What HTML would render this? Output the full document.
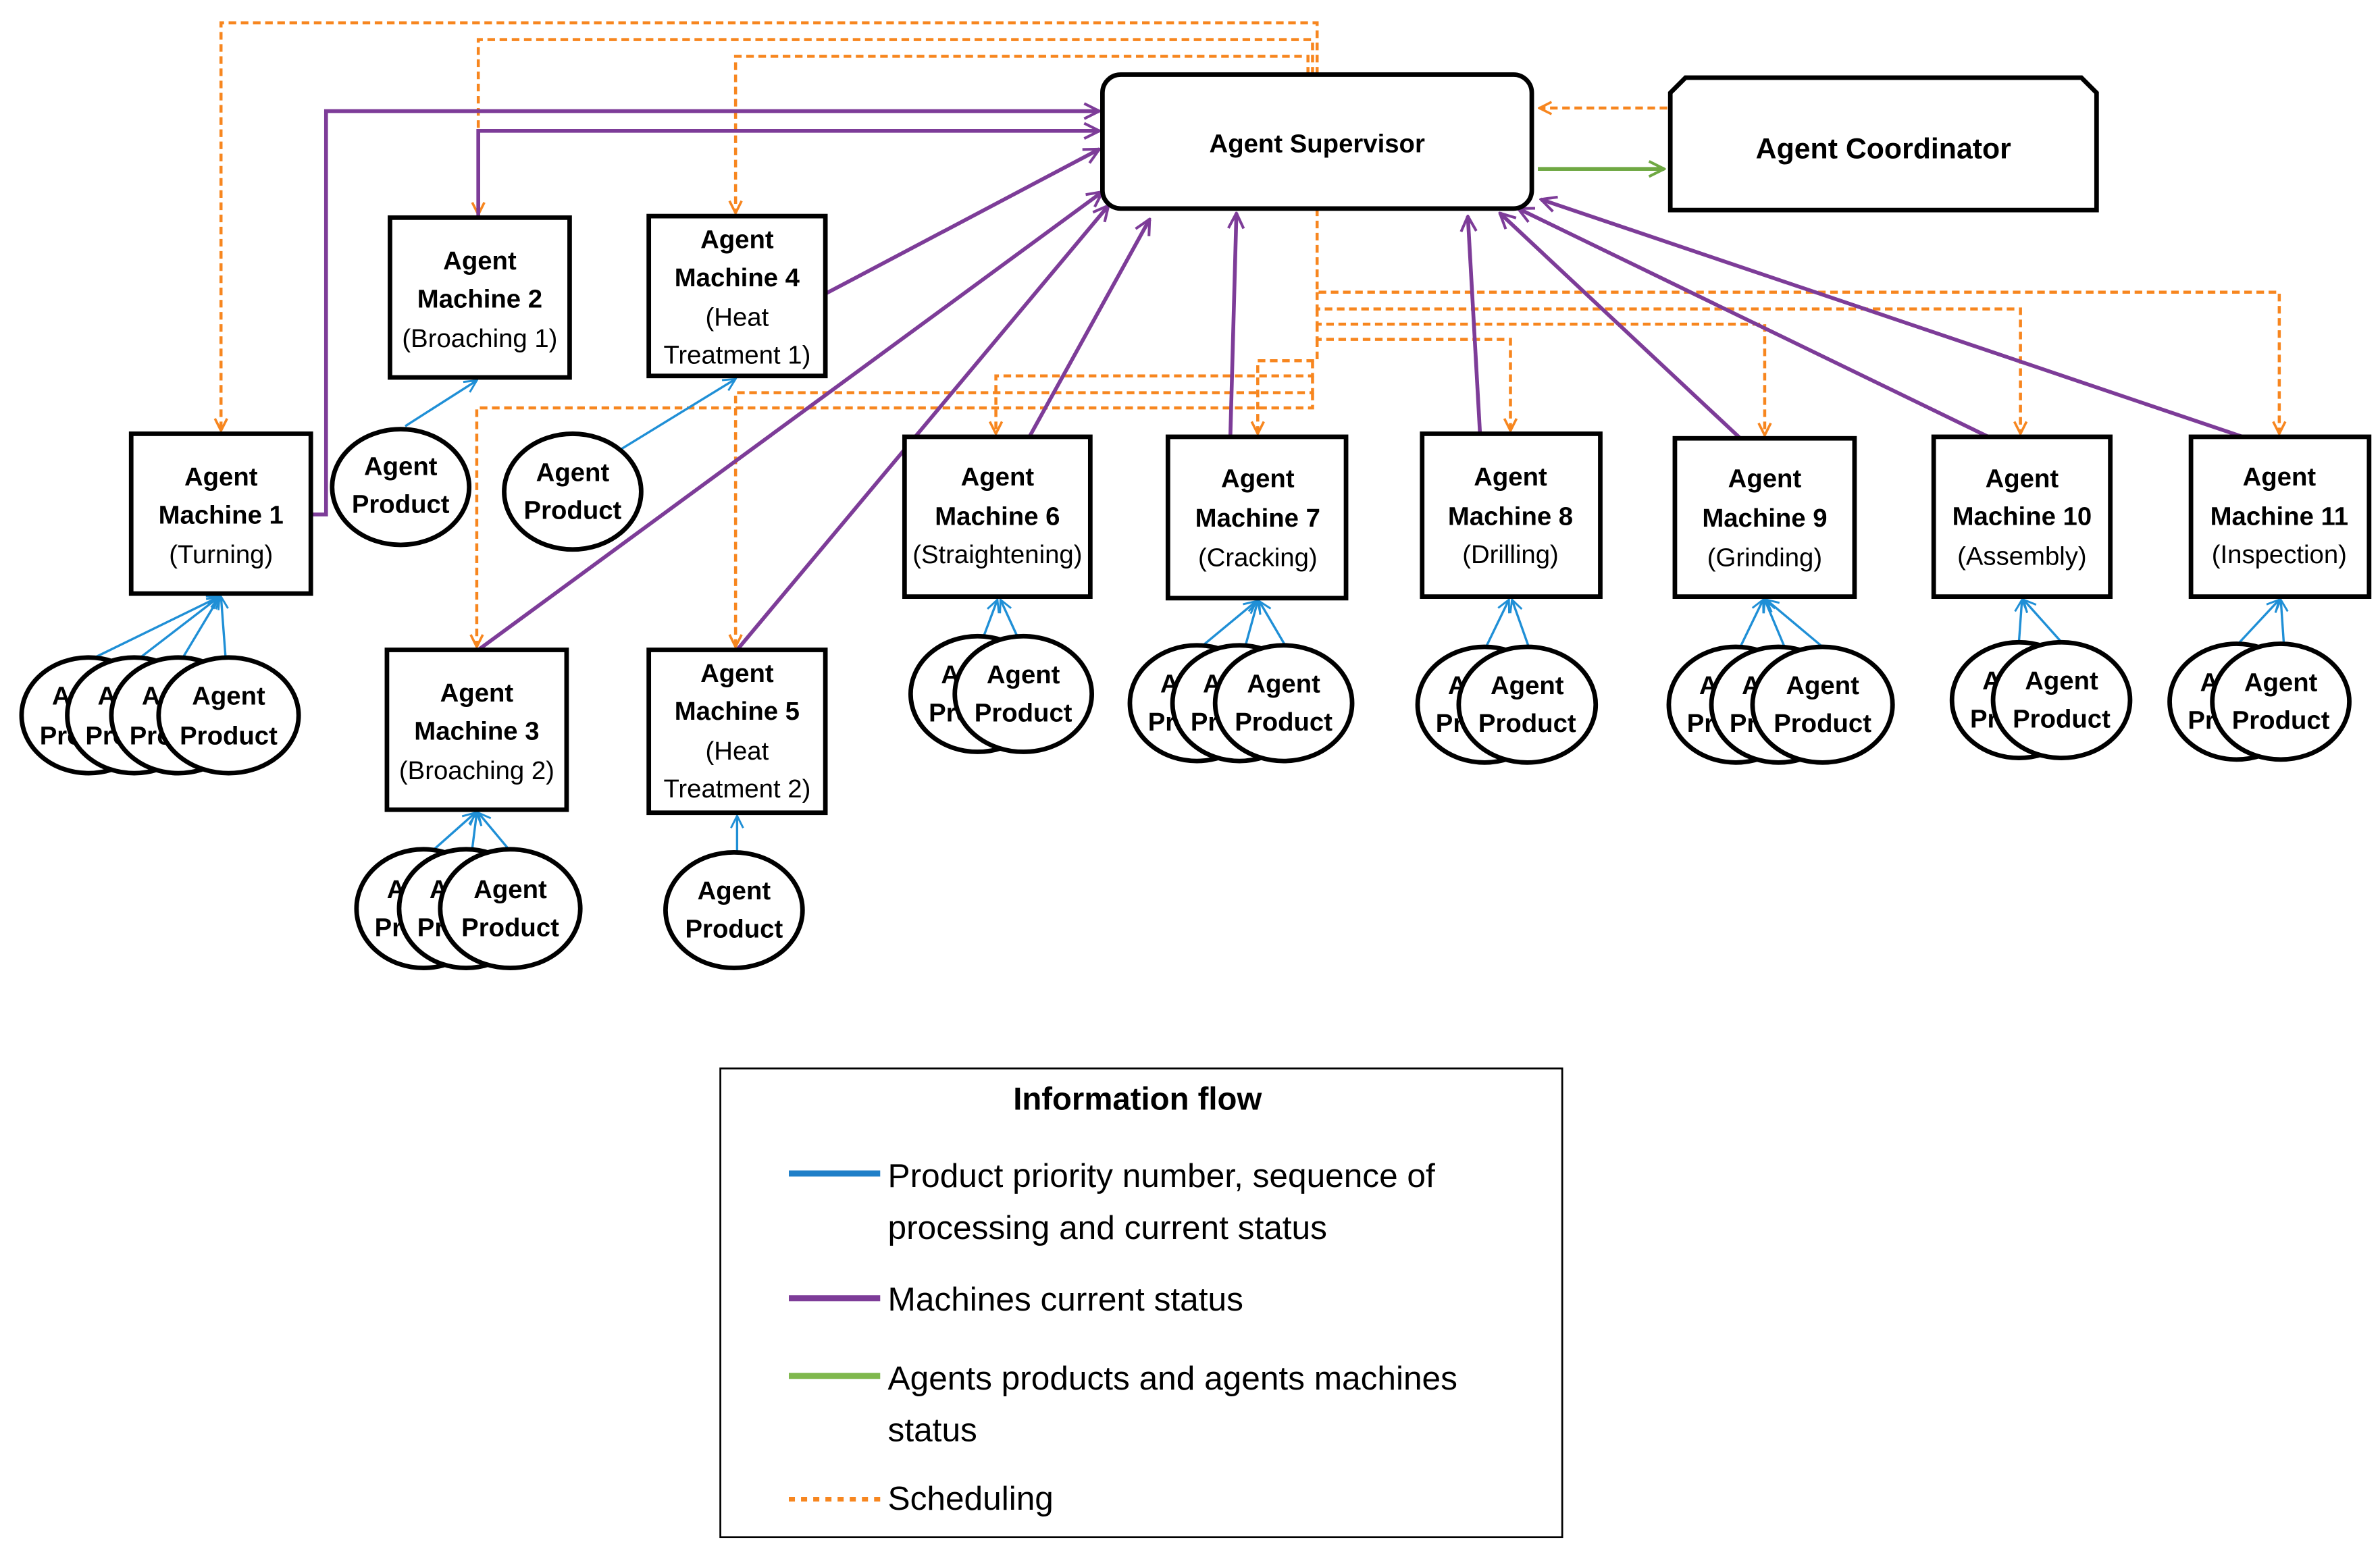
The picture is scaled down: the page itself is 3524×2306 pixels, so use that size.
<!DOCTYPE html>
<html><head><meta charset="utf-8"><style>
html,body{margin:0;padding:0;background:#fff;}
svg{display:block;}
text{font-family:"Liberation Sans",sans-serif;fill:#000;}
.b{font-weight:bold;}
</style></head><body>
<svg width="3524" height="2306" viewBox="0 0 1563 1023" xmlns="http://www.w3.org/2000/svg">
<defs>
<marker id="ao" markerWidth="10" markerHeight="10" refX="9" refY="5" orient="auto" markerUnits="userSpaceOnUse"><path d="M1,1 L9,5 L1,9" fill="none" stroke="#f7861f" stroke-width="1.6"/></marker>
<marker id="ap" markerWidth="12" markerHeight="12" refX="11" refY="6" orient="auto" markerUnits="userSpaceOnUse"><path d="M1,1 L11,6 L1,11" fill="none" stroke="#7d3c98" stroke-width="1.8"/></marker>
<marker id="ag" markerWidth="12" markerHeight="12" refX="11" refY="6" orient="auto" markerUnits="userSpaceOnUse"><path d="M1,1 L11,6 L1,11" fill="none" stroke="#6fa843" stroke-width="1.8"/></marker>
<marker id="ab" markerWidth="10" markerHeight="10" refX="9" refY="5" orient="auto" markerUnits="userSpaceOnUse"><path d="M1,1 L9,5 L1,9" fill="none" stroke="#1f8fd6" stroke-width="1.3"/></marker>
</defs>

<!-- orange dashed scheduling -->
<g fill="none" stroke="#f7861f" stroke-width="2" stroke-dasharray="5,3">
<path d="M865,49 V15 H145 V283" marker-end="url(#ao)"/>
<path d="M862,49 V26 H314 V141" marker-end="url(#ao)"/>
<path d="M859,49 V37 H483 V140" marker-end="url(#ao)"/>
<path d="M1095,71 H1011" marker-end="url(#ao)"/>
<path d="M865,137 V192 H1497 V285" marker-end="url(#ao)"/>
<path d="M865,192 V203 H1327 V285" marker-end="url(#ao)"/>
<path d="M865,203 V213 H1159 V286" marker-end="url(#ao)"/>
<path d="M865,213 V223 H992 V283" marker-end="url(#ao)"/>
<path d="M865,223 V237 H826 V285" marker-end="url(#ao)"/>
<path d="M862,237 V247 H654 V285" marker-end="url(#ao)"/>
<path d="M862,247 V258 H483 V425" marker-end="url(#ao)"/>
<path d="M862,258 V268 H313 V425" marker-end="url(#ao)"/>
</g>

<!-- purple -->
<g fill="none" stroke="#7d3c98" stroke-width="2.5">
<path d="M204,338 H214 V73 H722" marker-end="url(#ap)"/>
<path d="M314,143 V86 H722" marker-end="url(#ap)"/>
<path d="M542,193 L722,98" marker-end="url(#ap)"/>
<path d="M314,427 L724,126" marker-end="url(#ap)"/>
<path d="M484,427 L728,135" marker-end="url(#ap)"/>
<path d="M676,287 L755,144" marker-end="url(#ap)"/>
<path d="M808,287 L812,140" marker-end="url(#ap)"/>
<path d="M972,285 L964,142" marker-end="url(#ap)"/>
<path d="M1143,288 L985,140" marker-end="url(#ap)"/>
<path d="M1308,288 L997,137" marker-end="url(#ap)"/>
<path d="M1476,288 L1012,131" marker-end="url(#ap)"/>
</g>
<path d="M1010,111 H1093" stroke="#6fa843" stroke-width="2.5" fill="none" marker-end="url(#ag)"/>

<!-- supervisor / coordinator -->
<rect x="724" y="49" width="282" height="88" rx="12" fill="#fff" stroke="#000" stroke-width="3"/>
<text x="865" y="100" text-anchor="middle" class="b" font-size="17">Agent Supervisor</text>
<path d="M1107,51 H1367 L1377,61 V138 H1097 V61 Z" fill="#fff" stroke="#000" stroke-width="3"/>
<text x="1237" y="104" text-anchor="middle" class="b" font-size="19">Agent Coordinator</text>

<!-- blue lines -->
<g stroke="#1f8fd6" stroke-width="1.5" fill="none">
<path d="M62,432 L144,392" marker-end="url(#ab)"/><path d="M92,432 L144,392" marker-end="url(#ab)"/><path d="M120,432 L144,392" marker-end="url(#ab)"/><path d="M148,432 L145,392" marker-end="url(#ab)"/>
<path d="M266,280 L313,250" marker-end="url(#ab)"/>
<path d="M408,295 L483,249" marker-end="url(#ab)"/>
<path d="M285,558 L312,534" marker-end="url(#ab)"/><path d="M310,558 L313,534" marker-end="url(#ab)"/><path d="M334,558 L314,534" marker-end="url(#ab)"/>
<path d="M484,560 L484,536" marker-end="url(#ab)"/>
<path d="M646,418 L655,394" marker-end="url(#ab)"/><path d="M668,418 L657,394" marker-end="url(#ab)"/>
<path d="M790,424 L825,395" marker-end="url(#ab)"/><path d="M818,424 L826,395" marker-end="url(#ab)"/><path d="M844,424 L827,395" marker-end="url(#ab)"/>
<path d="M976,425 L991,394" marker-end="url(#ab)"/><path d="M1004,425 L993,394" marker-end="url(#ab)"/>
<path d="M1143,425 L1158,394" marker-end="url(#ab)"/><path d="M1172,425 L1159,394" marker-end="url(#ab)"/><path d="M1197,425 L1160,394" marker-end="url(#ab)"/>
<path d="M1326,422 L1328,394" marker-end="url(#ab)"/><path d="M1354,422 L1329,394" marker-end="url(#ab)"/>
<path d="M1470,423 L1497,394" marker-end="url(#ab)"/><path d="M1500,423 L1498,394" marker-end="url(#ab)"/>
</g>

<!-- machines -->
<g fill="#fff" stroke="#000" stroke-width="3">
<rect x="86" y="285" width="118" height="105"/>
<rect x="256" y="143" width="118" height="105"/>
<rect x="426" y="142" width="116" height="105"/>
<rect x="254" y="427" width="118" height="105"/>
<rect x="426" y="427" width="116" height="107"/>
<rect x="594" y="287" width="122" height="105"/>
<rect x="767" y="287" width="117" height="106"/>
<rect x="934" y="285" width="117" height="107"/>
<rect x="1100" y="288" width="118" height="104"/>
<rect x="1270" y="287" width="116" height="105"/>
<rect x="1439" y="287" width="117" height="105"/>
</g>
<g font-size="17" text-anchor="middle">
<text x="145" y="319" class="b">Agent</text><text x="145" y="344" class="b">Machine 1</text><text x="145" y="370">(Turning)</text>
<text x="315" y="177" class="b">Agent</text><text x="315" y="202" class="b">Machine 2</text><text x="315" y="228">(Broaching 1)</text>
<text x="484" y="163" class="b">Agent</text><text x="484" y="188" class="b">Machine 4</text><text x="484" y="214">(Heat</text><text x="484" y="239">Treatment 1)</text>
<text x="313" y="461" class="b">Agent</text><text x="313" y="486" class="b">Machine 3</text><text x="313" y="512">(Broaching  2)</text>
<text x="484" y="448" class="b">Agent</text><text x="484" y="473" class="b">Machine 5</text><text x="484" y="499">(Heat</text><text x="484" y="524">Treatment 2)</text>
<text x="655" y="319" class="b">Agent</text><text x="655" y="345" class="b">Machine 6</text><text x="655" y="370">(Straightening)</text>
<text x="826" y="320" class="b">Agent</text><text x="826" y="346" class="b">Machine 7</text><text x="826" y="372">(Cracking)</text>
<text x="992" y="319" class="b">Agent</text><text x="992" y="345" class="b">Machine 8</text><text x="992" y="370">(Drilling)</text>
<text x="1159" y="320" class="b">Agent</text><text x="1159" y="346" class="b">Machine 9</text><text x="1159" y="372">(Grinding)</text>
<text x="1328" y="320" class="b">Agent</text><text x="1328" y="345" class="b">Machine 10</text><text x="1328" y="371">(Assembly)</text>
<text x="1497" y="319" class="b">Agent</text><text x="1497" y="345" class="b">Machine 11</text><text x="1497" y="370">(Inspection)</text>
</g>

<!-- products -->
<g font-size="17" text-anchor="middle" class="b">
<g stroke="#000" stroke-width="3" fill="#fff">
<ellipse cx="58" cy="470" rx="44" ry="38"/></g><text x="58" y="463">Agent</text><text x="58" y="489">Product</text>
<ellipse cx="88" cy="470" rx="44" ry="38" fill="#fff" stroke="#000" stroke-width="3"/><text x="88" y="463">Agent</text><text x="88" y="489">Product</text>
<ellipse cx="117" cy="470" rx="44" ry="38" fill="#fff" stroke="#000" stroke-width="3"/><text x="117" y="463">Agent</text><text x="117" y="489">Product</text>
<ellipse cx="150" cy="470" rx="46" ry="38" fill="#fff" stroke="#000" stroke-width="3"/><text x="150" y="463">Agent</text><text x="150" y="489">Product</text>

<ellipse cx="263" cy="320" rx="45" ry="38" fill="#fff" stroke="#000" stroke-width="3"/><text x="263" y="312">Agent</text><text x="263" y="337">Product</text>
<ellipse cx="376" cy="323" rx="45" ry="38" fill="#fff" stroke="#000" stroke-width="3"/><text x="376" y="316">Agent</text><text x="376" y="341">Product</text>

<ellipse cx="278" cy="597" rx="44" ry="39" fill="#fff" stroke="#000" stroke-width="3"/><text x="278" y="590">Agent</text><text x="278" y="615">Product</text>
<ellipse cx="306" cy="597" rx="44" ry="39" fill="#fff" stroke="#000" stroke-width="3"/><text x="306" y="590">Agent</text><text x="306" y="615">Product</text>
<ellipse cx="335" cy="597" rx="46" ry="39" fill="#fff" stroke="#000" stroke-width="3"/><text x="335" y="590">Agent</text><text x="335" y="615">Product</text>

<ellipse cx="482" cy="598" rx="45" ry="38" fill="#fff" stroke="#000" stroke-width="3"/><text x="482" y="591">Agent</text><text x="482" y="616">Product</text>

<ellipse cx="642" cy="456" rx="44" ry="38" fill="#fff" stroke="#000" stroke-width="3"/><text x="642" y="449">Agent</text><text x="642" y="474">Product</text>
<ellipse cx="672" cy="456" rx="45" ry="38" fill="#fff" stroke="#000" stroke-width="3"/><text x="672" y="449">Agent</text><text x="672" y="474">Product</text>

<ellipse cx="786" cy="462" rx="44" ry="38" fill="#fff" stroke="#000" stroke-width="3"/><text x="786" y="455">Agent</text><text x="786" y="480">Product</text>
<ellipse cx="814" cy="462" rx="44" ry="38" fill="#fff" stroke="#000" stroke-width="3"/><text x="814" y="455">Agent</text><text x="814" y="480">Product</text>
<ellipse cx="843" cy="462" rx="45" ry="38" fill="#fff" stroke="#000" stroke-width="3"/><text x="843" y="455">Agent</text><text x="843" y="480">Product</text>

<ellipse cx="975" cy="463" rx="44" ry="38" fill="#fff" stroke="#000" stroke-width="3"/><text x="975" y="456">Agent</text><text x="975" y="481">Product</text>
<ellipse cx="1003" cy="463" rx="45" ry="38" fill="#fff" stroke="#000" stroke-width="3"/><text x="1003" y="456">Agent</text><text x="1003" y="481">Product</text>

<ellipse cx="1140" cy="463" rx="44" ry="38" fill="#fff" stroke="#000" stroke-width="3"/><text x="1140" y="456">Agent</text><text x="1140" y="481">Product</text>
<ellipse cx="1168" cy="463" rx="44" ry="38" fill="#fff" stroke="#000" stroke-width="3"/><text x="1168" y="456">Agent</text><text x="1168" y="481">Product</text>
<ellipse cx="1197" cy="463" rx="46" ry="38" fill="#fff" stroke="#000" stroke-width="3"/><text x="1197" y="456">Agent</text><text x="1197" y="481">Product</text>

<ellipse cx="1326" cy="460" rx="44" ry="38" fill="#fff" stroke="#000" stroke-width="3"/><text x="1326" y="453">Agent</text><text x="1326" y="478">Product</text>
<ellipse cx="1354" cy="460" rx="45" ry="38" fill="#fff" stroke="#000" stroke-width="3"/><text x="1354" y="453">Agent</text><text x="1354" y="478">Product</text>

<ellipse cx="1469" cy="461" rx="44" ry="38" fill="#fff" stroke="#000" stroke-width="3"/><text x="1469" y="454">Agent</text><text x="1469" y="479">Product</text>
<ellipse cx="1498" cy="461" rx="45" ry="38" fill="#fff" stroke="#000" stroke-width="3"/><text x="1498" y="454">Agent</text><text x="1498" y="479">Product</text>
</g>

<!-- legend -->
<rect x="473" y="702" width="553" height="308" fill="#fff" stroke="#000" stroke-width="1.2"/>
<text x="747" y="729" text-anchor="middle" class="b" font-size="21">Information flow</text>
<line x1="518" y1="771" x2="578" y2="771" stroke="#1f7fc8" stroke-width="4"/>
<line x1="518" y1="853" x2="578" y2="853" stroke="#7d3c98" stroke-width="4"/>
<line x1="518" y1="904" x2="578" y2="904" stroke="#7fb84d" stroke-width="4"/>
<line x1="518" y1="985" x2="578" y2="985" stroke="#f7861f" stroke-width="3" stroke-dasharray="4,4"/>
<g font-size="22">
<text x="583" y="780">Product priority number, sequence of</text>
<text x="583" y="814">processing and current status</text>
<text x="583" y="861">Machines current status</text>
<text x="583" y="913">Agents products and agents machines</text>
<text x="583" y="947">status</text>
<text x="583" y="992">Scheduling</text>
</g>
</svg>
</body></html>
